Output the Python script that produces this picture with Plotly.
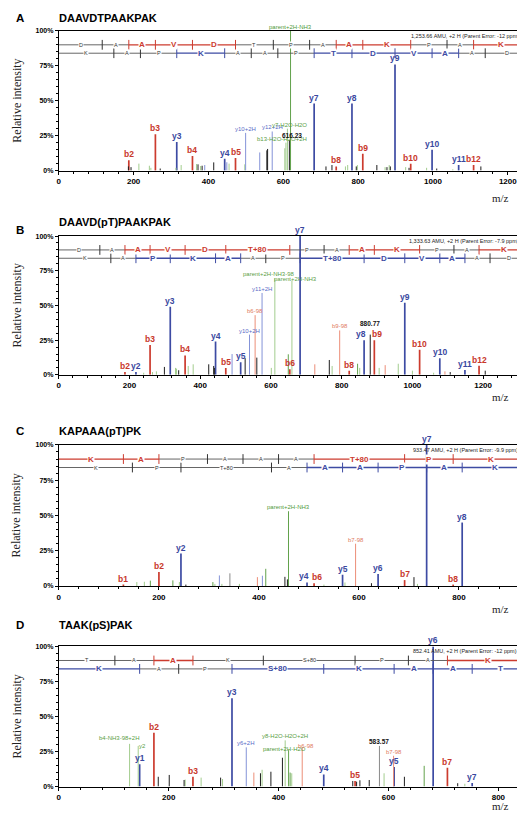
import plotly.graph_objects as go

W, H = 525, 813
SANS = "Liberation Sans, Arial, sans-serif"
SERIF = "Liberation Serif, Times New Roman, serif"

X_TICK_STEP_LABELS = {"A": [0, 200, 400, 600, 800, 1000, 1200],
                      "B": [0, 200, 400, 600, 800, 1000, 1200],
                      "C": [0, 200, 400, 600, 800],
                      "D": [0, 200, 400, 600, 800]}
Y_TICKS = [0, 25, 50, 75, 100]
Y_TICKTEXT = ["0%", "25%", "50%", "75%", "100%"]

# ---------------- Panel A : DAAVDTPAAKPAK ----------------
A_title = "DAAVDTPAAKPAK"
A_info = "1,253.66 AMU, +2 H (Parent Error: -12 ppm)"
A_xmax = 1254
A_mz = [186, 187.07, 193, 214, 242, 246, 258.11, 271, 313, 315.2, 327, 357.18, 368, 372, 379,
        383, 390, 414, 443.3, 449, 455, 472.21, 497, 499.3, 537, 556, 558, 570.3, 604, 607,
        611, 616.23, 619.3, 682.42, 714, 730, 741.35, 766, 772, 783.47, 795, 798, 812.38, 850,
        872, 877, 883, 886, 898.5, 927, 936, 940.48, 983, 997.57, 1010, 1053, 1068.6, 1108.57, 1128]
A_int = [3, 7.5, 2.5, 5, 3.5, 2, 26, 1.5, 2, 20.5, 4, 10.5, 4.7, 4.5, 3.3,
         3.5, 4, 5.9, 8.5, 6, 5, 9, 4.5, 27, 13, 14.5, 15.5, 28, 16, 20,
         30, 22, 100, 48, 3, 4, 3, 3, 4, 48, 3, 4, 12, 4,
         2.5, 2.5, 4, 3, 76, 2.5, 2, 5, 2, 15, 1.5, 1, 4, 4, 3]
A_cls = ["k", "b", "k", "gl", "gl", "gl", "b", "k", "gl", "y", "gl", "b", "gl", "k", "gl",
         "k", "yl", "k", "y", "yl", "gl", "b", "gl", "yl", "yl", "k", "k", "yl", "gl", "gl",
         "gl", "k", "g", "y", "k", "k", "b", "gl", "gl", "y", "k", "gl", "b", "k",
         "gl", "k", "gl", "k", "y", "gl", "k", "b", "gl", "y", "k", "gl", "y", "b", "k"]
A_lab = ["", "b2", "", "", "", "", "b3", "", "", "y3", "", "b4", "", "", "",
         "", "", "", "y4", "", "", "b5", "", "y10+2H", "", "", "", "y12+2H", "", "b13-H2O-H2O+2H",
         "y7-H2O-H2O", "616.23", "parent+2H-NH3", "y7", "", "", "b8", "", "", "y8", "", "", "b9", "",
         "", "", "", "", "y9", "", "", "b10", "", "y10", "", "", "y11", "b12", ""]
A_b_res = ["D", "A", "A", "V", "D", "T", "P", "A", "A", "K", "P", "A", "K"]
A_b_cut = [116.03, 187.07, 258.11, 357.18, 472.21, 573.26, 670.31, 741.35, 812.38, 940.48, 1037.53, 1108.57]
A_b_hit = [0, 0, 1, 1, 1, 0, 0, 0, 1, 1, 0, 0, 1]
A_y_res = ["K", "A", "P", "K", "A", "A", "P", "T", "D", "V", "A", "A", "D"]
A_y_cut = [147.11, 218.15, 315.20, 443.30, 514.33, 585.37, 682.42, 783.47, 898.50, 997.57, 1068.60, 1139.64]
A_y_hit = [0, 0, 0, 1, 0, 0, 0, 1, 1, 1, 1, 0, 0]

# ---------------- Panel B : DAAVD(pT)PAAKPAK ----------------
B_title = "DAAVD(pT)PAAKPAK"
B_info = "1,333.63 AMU, +2 H (Parent Error: -7.9 ppm)"
B_xmax = 1327
B_mz = [187.07, 218.15, 240, 258.11, 265, 276, 298.6, 315.2, 330, 333, 339, 357.18, 366, 380,
        424, 438, 440, 443.3, 472.21, 490, 514.33, 527, 539.3, 555.2, 560, 574.8, 601, 611,
        649, 653.22, 659.3, 682.42, 724, 765, 773, 794.35, 821.31, 845, 851, 863.43, 880.77,
        892.35, 906, 923, 960, 978.46, 1000, 1020.44, 1060, 1077.53, 1092, 1107, 1148.57, 1188.53, 1206]
B_int = [2, 2, 1.5, 21.5, 2, 2.5, 5.7, 49, 5, 4.5, 3.3, 14, 6.4, 7.6,
         7.6, 6.4, 5, 24, 5, 15, 9, 12, 29, 43, 12.4, 59, 5, 69.5,
         14.8, 4, 68, 100, 7.6, 10.7, 6.4, 32, 3, 8, 5, 25, 29,
         25, 5, 7, 8, 52, 3, 18, 1.5, 12, 2.5, 2, 3.5, 6.5, 3]
B_cls = ["b", "y", "gl", "b", "gl", "gl", "k", "y", "gl", "gl", "k", "b", "gl", "gl",
         "k", "k", "k", "y", "b", "yl", "y", "k", "yl", "bl", "k", "yl", "gl", "gl",
         "g", "b", "gl", "y", "bl", "k", "gl", "bl", "b", "g", "gl", "y", "k",
         "b", "gl", "bl", "gl", "y", "gl", "b", "gl", "y", "bl", "k", "y", "b", "k"]
B_lab = ["b2", "y2", "", "b3", "", "", "", "y3", "", "", "", "b4", "", "",
         "", "", "", "y4", "b5", "", "y5", "", "y10+2H", "b6-98", "", "y11+2H", "", "parent+2H-NH3-98",
         "", "b6", "parent+2H-NH3", "y7", "", "", "", "b9-98", "b8", "", "", "y8", "880.77",
         "b9", "", "", "", "y9", "", "b10", "", "y10", "", "", "y11", "b12", ""]
B_b_res = ["D", "A", "A", "V", "D", "T+80", "P", "A", "A", "K", "P", "A", "K"]
B_b_cut = [116.03, 187.07, 258.11, 357.18, 472.21, 653.22, 750.27, 821.31, 892.35, 1020.44, 1117.49, 1188.53]
B_b_hit = [0, 0, 1, 1, 1, 1, 0, 0, 1, 1, 0, 0, 1]
B_y_res = ["K", "A", "P", "K", "A", "A", "P", "T+80", "D", "V", "A", "A", "D"]
B_y_cut = [147.11, 218.15, 315.20, 443.30, 514.33, 585.37, 682.42, 863.43, 978.46, 1077.53, 1148.57, 1219.60]
B_y_hit = [0, 0, 1, 1, 1, 0, 0, 1, 1, 1, 1, 0, 0]

# ---------------- Panel C : KAPAAA(pT)PK ----------------
C_title = "KAPAAA(pT)PK"
C_info = "933.47 AMU, +2 H (Parent Error: -9.9 ppm)"
C_xmax = 938
C_mz = [129.1, 156, 171, 183, 200.14, 228, 241, 244.17, 254, 308, 312, 321, 326, 342, 361,
        397, 407, 413.7, 452, 457, 459.2, 496.21, 510.3, 530, 567.25, 572, 593.3, 625, 638.29,
        691.31, 710, 717, 735.34, 788.36, 806.38]
C_int = [1, 2.8, 3, 3.8, 10, 4, 2.8, 23, 1, 2.8, 1.5, 7.5, 1.5, 9, 1.5,
         6.3, 7.3, 12.2, 6.5, 4.7, 53, 2.5, 2, 1, 8, 2.5, 30, 2, 8.5,
         4.2, 6.3, 1.5, 100, 1, 45]
C_cls = ["b", "gl", "gl", "g", "b", "g", "gl", "y", "k", "g", "gl", "yl", "gl", "kg", "gl",
         "bl", "yl", "g", "k", "k", "g", "y", "b", "gl", "y", "gl", "bl", "k", "y",
         "b", "k", "gl", "y", "b", "y"]
C_lab = ["b1", "", "", "", "b2", "", "", "y2", "", "", "", "", "", "", "",
         "", "", "", "", "", "parent+2H-NH3", "y4", "b6", "", "y5", "", "b7-98", "", "y6",
         "b7", "", "", "y7", "b8", "y8"]
C_b_res = ["K", "A", "P", "A", "A", "A", "T+80", "P", "K"]
C_b_cut = [129.10, 200.14, 297.19, 368.23, 439.27, 510.30, 691.31, 788.36]
C_b_hit = [1, 1, 0, 0, 0, 0, 1, 1, 1]
C_y_res = ["K", "P", "T+80", "A", "A", "A", "P", "A", "K"]
C_y_cut = [147.11, 244.17, 425.18, 496.21, 567.25, 638.29, 735.34, 806.38]
C_y_hit = [0, 0, 0, 0, 1, 1, 1, 1, 1]

# ---------------- Panel D : TAAK(pS)PAK ----------------
D_title = "TAAK(pS)PAK"
D_info = "852.41 AMU, +2 H (Parent Error: -12 ppm)"
D_xmax = 854
D_mz = [128.8, 144.5, 147.11, 173.09, 181, 201, 228, 230, 244.13, 259, 294.5, 298, 315.2, 341.2,
        355, 367, 370, 386, 407, 412, 418.2, 421, 424, 443, 482.2, 535, 539.22, 542, 548, 565,
        583.57, 592, 609.3, 610.3, 629, 665, 681.33, 707.31, 726, 739, 752.37]
D_int = [30.5, 29, 16, 38.5, 7, 8.3, 4.7, 5, 7, 6.4, 6.4, 5.4, 63, 28,
         10, 9.5, 12, 10.6, 20.6, 33, 26, 10, 9.5, 27.7, 8.7, 4, 4, 3.5, 4.5, 4.7,
         29, 9.5, 22, 14, 7, 14.8, 100, 13.5, 2.4, 2, 2.5]
D_cls = ["gl", "gl", "y", "b", "k", "k", "k", "gl", "b", "gl", "k", "gl", "y", "yl",
         "bl", "k", "gl", "k", "k", "gl", "g", "g", "gl", "bl", "y", "k", "b", "k", "k", "k",
         "kg", "gl", "bl", "y", "k", "g", "y", "b", "k", "gl", "y"]
D_lab = ["b4-NH3-98+2H", "y2", "y1", "b2", "", "", "", "", "b3", "", "", "", "y3", "y6+2H",
         "", "", "", "", "", "y8-H2O-H2O+2H", "parent+2H-H2O", "", "", "b6-98", "y4", "", "b5", "", "", "",
         "583.57", "", "b7-98", "y5", "", "", "y6", "b7", "", "", "y7"]
D_b_res = ["T", "A", "A", "K", "S+80", "P", "A", "K"]
D_b_cut = [102.05, 173.09, 244.13, 372.22, 539.22, 636.27, 707.31]
D_b_hit = [0, 0, 1, 0, 0, 0, 0, 1]
D_y_res = ["K", "A", "P", "S+80", "K", "A", "A", "T"]
D_y_cut = [147.11, 218.15, 315.20, 482.20, 610.30, 681.33, 752.37]
D_y_hit = [1, 0, 0, 1, 1, 1, 1, 1]

# ---------------- styles ----------------
COL = {"b": "#cc3b2e", "y": "#3d4ba3", "g": "#62a24c", "gl": "#a3cd8e",
       "k": "#1e1e1e", "kg": "#8a8a8a", "bl": "#ec8e78", "yl": "#8493d8"}
LABCOL = {"b": "#c8372a", "y": "#3a48a0", "g": "#4f9a3c", "gl": "#5aa046",
          "k": "#111111", "kg": "#111111", "bl": "#e07a62", "yl": "#5a6cc8"}
# small pixel nudges for crowded labels (style only)
LAB_SHIFT = {("B", "parent+2H-NH3-98"): (-6, 0), ("B", "parent+2H-NH3"): (4, -3),
             ("D", "b4-NH3-98+2H"): (-10, 2), ("D", "y2"): (4, -4),
             ("D", "b6-98"): (4, -2), ("D", "parent+2H-H2O"): (-4, -3),
             ("A", "616.23"): (3, 0), ("A", "b13-H2O-H2O+2H"): (-4, 0),
             ("A", "y7-H2O-H2O"): (2, 0), ("B", "y8"): (-3, 0), ("B", "b9"): (3, 0),
             ("B", "880.77"): (0, 7), ("C", "y4"): (-3, 0), ("C", "b6"): (3, 0)}

# pixel geometry of each panel (top = 100 %, bot = 0 %)
GEOM = {
    "A": dict(top=19, bot=160, let_y=6, tit_y=6, mz_y=188, info_x=402),
    "B": dict(top=226, bot=366, let_y=220, tit_y=212, mz_y=388, info_x=400),
    "C": dict(top=436.7, bot=579, let_y=423, tit_y=423, mz_y=602, info_x=404),
    "D": dict(top=640, bot=781.3, let_y=618, tit_y=618, mz_y=801, info_x=404),
}

panels = [
    dict(key="A", title=A_title, info=A_info, xmax=A_xmax, mz=A_mz, it=A_int, cls=A_cls, lab=A_lab,
         bres=A_b_res, bcut=A_b_cut, bhit=A_b_hit, yres=A_y_res, ycut=A_y_cut, yhit=A_y_hit),
    dict(key="B", title=B_title, info=B_info, xmax=B_xmax, mz=B_mz, it=B_int, cls=B_cls, lab=B_lab,
         bres=B_b_res, bcut=B_b_cut, bhit=B_b_hit, yres=B_y_res, ycut=B_y_cut, yhit=B_y_hit),
    dict(key="C", title=C_title, info=C_info, xmax=C_xmax, mz=C_mz, it=C_int, cls=C_cls, lab=C_lab,
         bres=C_b_res, bcut=C_b_cut, bhit=C_b_hit, yres=C_y_res, ycut=C_y_cut, yhit=C_y_hit),
    dict(key="D", title=D_title, info=D_info, xmax=D_xmax, mz=D_mz, it=D_int, cls=D_cls, lab=D_lab,
         bres=D_b_res, bcut=D_b_cut, bhit=D_b_hit, yres=D_y_res, ycut=D_y_cut, yhit=D_y_hit),
]

fig = go.Figure()
ann = []
lay = {}

for i, p in enumerate(panels):
    n = "" if i == 0 else str(i + 1)
    xa, ya = "x" + n, "y" + n
    k = p["key"]
    g = GEOM[k]

    # ---- peaks ----
    for c in COL:
        xs, ys = [], []
        for m, v, cc in zip(p["mz"], p["it"], p["cls"]):
            if cc == c:
                xs += [m, m, None]
                ys += [0, v, None]
        if xs:
            fig.add_trace(go.Scatter(x=xs, y=ys, mode="lines", xaxis=xa, yaxis=ya,
                                     line=dict(color=COL[c], width=1.7 if c in ("b", "y") else 1.0),
                                     showlegend=False, hoverinfo="skip"))
    # ---- peak labels ----
    for m, v, cc, lb in zip(p["mz"], p["it"], p["cls"], p["lab"]):
        if not lb:
            continue
        big = cc in ("b", "y")
        numeric = lb.replace(".", "").isdigit()
        if big:
            f = dict(size=8.5, color=LABCOL[cc], family=SANS, weight="bold")
        elif numeric:
            f = dict(size=6.5, color=LABCOL[cc], family=SANS, weight="bold")
        else:
            f = dict(size=6, color=LABCOL[cc], family=SANS)
        dx, dy = LAB_SHIFT.get((k, lb), (0, 0))
        ann.append(dict(x=m, y=v, xref=xa, yref=ya, text=lb, showarrow=False,
                        xanchor="center", yanchor="bottom", yshift=dy, xshift=dx,
                        borderpad=0, font=f))

    # ---- fragment ladders ----
    for res, cut, hit, yrow, hc in [(p["bres"], p["bcut"], p["bhit"], 90, COL["b"]),
                                    (p["yres"], p["ycut"], p["yhit"], 84, COL["y"])]:
        starts = [0] + list(cut)
        ends = list(cut) + [p["xmax"]]
        for flag in (0, 1):
            xs, ys = [], []
            for s, e, h in zip(starts, ends, hit):
                if h == flag:
                    xs += [s, e, None]
                    ys += [yrow, yrow, None]
            if xs:
                fig.add_trace(go.Scatter(x=xs, y=ys, mode="lines", xaxis=xa, yaxis=ya,
                                         line=dict(color=hc if flag else "#555555",
                                                   width=1.3 if flag else 0.9),
                                         showlegend=False, hoverinfo="skip"))
        tcol = [hc if (hit[j] or hit[j + 1]) else "#333333" for j in range(len(cut))]
        fig.add_trace(go.Scatter(x=list(cut), y=[yrow] * len(cut), mode="markers",
                                 xaxis=xa, yaxis=ya,
                                 marker=dict(symbol="line-ns", size=7,
                                             line=dict(color=tcol, width=1)),
                                 showlegend=False, hoverinfo="skip"))
        for s, e, r, h in zip(starts, ends, res, hit):
            if h:
                f = dict(size=8, color=hc, family=SANS, weight="bold")
            else:
                f = dict(size=5.5, color="#333333", family=SANS)
            ann.append(dict(x=(s + e) / 2, y=yrow, xref=xa, yref=ya, text=r, showarrow=False,
                            bgcolor="white", borderpad=0, xanchor="center", yanchor="middle",
                            font=f))

    # ---- parent info ----
    ann.append(dict(x=g["info_x"] / W, y=1 - (g["top"] + 5) / H, xref="paper", yref="paper",
                    text=p["info"], showarrow=False, xanchor="left", yanchor="middle",
                    borderpad=0, font=dict(size=5.5, color="#222222", family=SANS)))

    # ---- headings ----
    ann.append(dict(x=4 / W, y=1 - g["let_y"] / H, xref="paper", yref="paper", text=k,
                    showarrow=False, xanchor="left", yanchor="middle",
                    font=dict(size=11.5, color="black", family=SANS, weight="bold")))
    ann.append(dict(x=47 / W, y=1 - g["tit_y"] / H, xref="paper", yref="paper", text=p["title"],
                    showarrow=False, xanchor="left", yanchor="middle",
                    font=dict(size=11, color="black", family=SANS, weight="bold")))
    ann.append(dict(x=7 / W, y=1 - (g["top"] + g["bot"]) / 2 / H, xref="paper", yref="paper",
                    text="Relative intensity", textangle=-90, showarrow=False,
                    xanchor="center", yanchor="middle",
                    font=dict(size=12, color="#222222", family=SERIF)))
    ann.append(dict(x=492 / W, y=1 - g["mz_y"] / H, xref="paper", yref="paper", text="m/z",
                    showarrow=False, xanchor="center", yanchor="middle",
                    font=dict(size=11, color="#222222", family=SERIF)))

    # ---- axes ----
    xt = X_TICK_STEP_LABELS[k]
    lay["xaxis" + n] = dict(domain=[49 / W, 520 / W], range=[0, p["xmax"]], anchor=ya,
                            tickmode="array", tickvals=xt, ticktext=[str(v) for v in xt],
                            ticks="outside", ticklen=3, tickwidth=1, tickcolor="black",
                            minor=dict(dtick=40, tick0=0, ticks="outside", ticklen=2,
                                       tickcolor="black"),
                            showline=True, linecolor="black", linewidth=1, mirror=True,
                            showgrid=False, zeroline=False, fixedrange=True,
                            tickfont=dict(size=8, color="black", family=SANS, weight="bold"))
    lay["yaxis" + n] = dict(domain=[1 - g["bot"] / H, 1 - g["top"] / H], range=[0, 100], anchor=xa,
                            tickmode="array", tickvals=Y_TICKS, ticktext=Y_TICKTEXT,
                            ticks="outside", ticklen=3, tickwidth=1, tickcolor="black",
                            minor=dict(dtick=5, tick0=0, ticks="outside", ticklen=1.5,
                                       tickcolor="black"),
                            showline=True, linecolor="black", linewidth=1, mirror=True,
                            showgrid=False, zeroline=False, fixedrange=True,
                            tickfont=dict(size=7, color="black", family=SANS, weight="bold"))

fig.update_layout(width=W, height=H, margin=dict(l=0, r=0, t=0, b=0),
                  paper_bgcolor="white", plot_bgcolor="white", showlegend=False,
                  annotations=ann, **lay)

fig.write_html("out.html")
